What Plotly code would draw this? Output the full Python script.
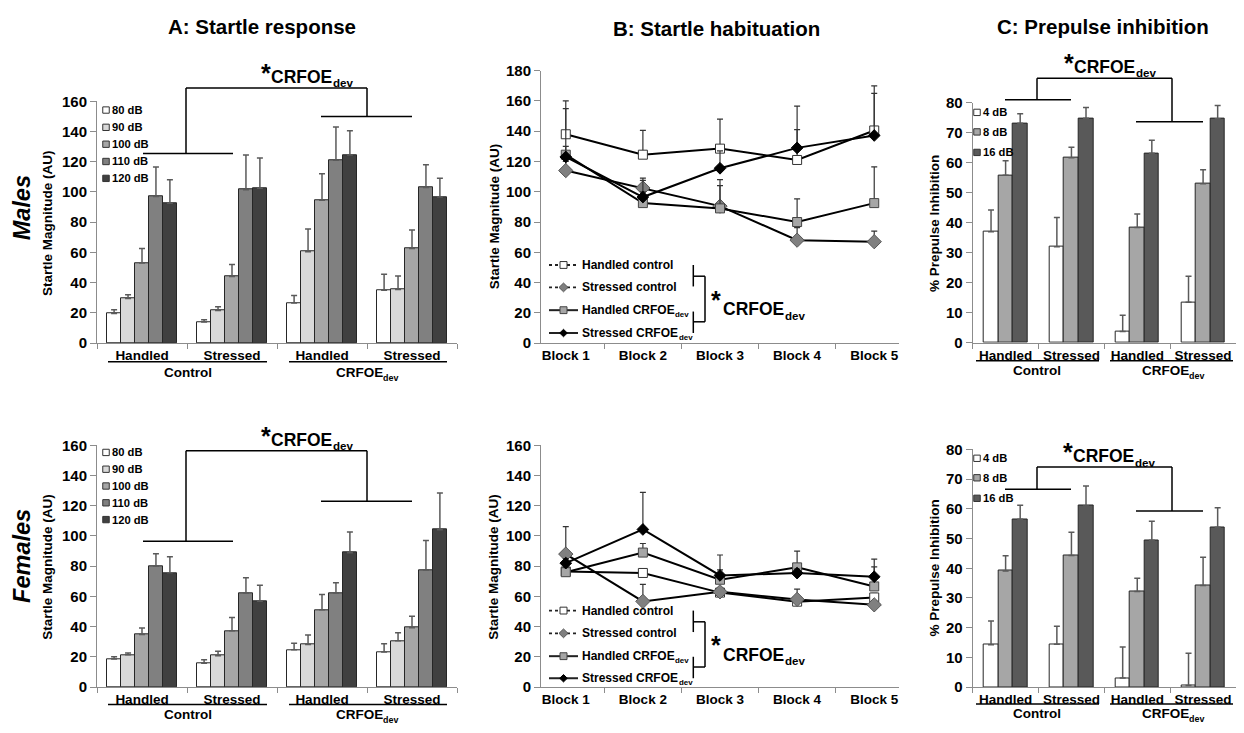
import plotly.graph_objects as go

W, H = 1244, 733          # browser window
OFF = 8                   # default page margin around the figure
FW, FH = W - 2 * OFF, H - 2 * OFF
FONT = "Liberation Sans"

# ---------------- data ----------------
group_ids = ["Control-Handled", "Control-Stressed", "CRFOE-Handled", "CRFOE-Stressed"]
group_ticks = ["Handled", "Stressed", "Handled", "Stressed"]
startle_levels = ["80 dB", "90 dB", "100 dB", "110 dB", "120 dB"]
ppi_levels = ["4 dB", "8 dB", "16 dB"]
blocks = ["Block 1", "Block 2", "Block 3", "Block 4", "Block 5"]
hab_names = [("Handled control", ""), ("Stressed control", ""),
             ("Handled CRFOE", "dev"), ("Stressed CRFOE", "dev")]

# A: startle response, males (mean, top of error bar) per dB level across the 4 groups
m_startle_80 = [19.5, 14.0, 26.5, 35.0]
m_startle_90 = [29.5, 21.5, 60.5, 35.5]
m_startle_100 = [53.0, 44.0, 94.5, 62.6]
m_startle_110 = [97.0, 101.5, 121.0, 103.0]
m_startle_120 = [92.5, 102.5, 124.5, 96.6]
m_startle_80_top = [22.0, 15.5, 31.5, 45.6]
m_startle_90_top = [32.0, 24.0, 75.5, 44.3]
m_startle_100_top = [62.5, 52.0, 112.0, 74.8]
m_startle_110_top = [116.5, 124.5, 143.0, 118.0]
m_startle_120_top = [108.0, 122.5, 140.5, 109.0]

# A: startle response, females
f_startle_80 = [18.5, 15.7, 24.6, 23.2]
f_startle_90 = [21.3, 20.7, 28.1, 30.6]
f_startle_100 = [34.8, 37.2, 51.1, 39.3]
f_startle_110 = [80.0, 62.3, 62.3, 77.4]
f_startle_120 = [75.6, 56.8, 88.9, 104.1]
f_startle_80_top = [20.0, 18.0, 28.9, 28.6]
f_startle_90_top = [22.6, 23.7, 34.5, 36.0]
f_startle_100_top = [39.0, 46.0, 61.3, 46.9]
f_startle_110_top = [88.2, 72.3, 69.0, 97.0]
f_startle_120_top = [86.3, 67.4, 102.6, 128.5]

# B: startle habituation, males
m_hab_hc = [138.0, 124.5, 128.5, 121.0, 140.5]
m_hab_sc = [114.0, 102.5, 90.5, 68.0, 67.0]
m_hab_hr = [124.5, 92.5, 89.0, 80.0, 92.5]
m_hab_sr = [123.0, 96.5, 115.5, 129.0, 137.2]
m_hab_hc_top = [160.0, 140.5, 148.0, 141.0, 165.0]
m_hab_sc_top = [120.0, 109.0, 108.0, 76.3, 74.0]
m_hab_hr_top = [155.0, 107.5, 104.0, 95.3, 116.5]
m_hab_sr_top = [130.0, 100.0, 127.0, 156.6, 170.0]

# B: startle habituation, females
f_hab_hc = [76.5, 75.5, 62.5, 56.5, 59.3]
f_hab_sc = [88.0, 56.7, 63.0, 58.0, 54.4]
f_hab_hr = [76.0, 89.0, 71.0, 79.2, 66.6]
f_hab_sr = [82.0, 104.3, 73.9, 75.4, 73.0]
f_hab_hc_top = [79.0, 78.0, 65.0, 59.0, 62.0]
f_hab_sc_top = [106.2, 67.9, 65.0, 64.8, 57.0]
f_hab_hr_top = [79.0, 95.0, 77.5, 90.0, 79.5]
f_hab_sr_top = [85.0, 128.8, 87.4, 78.0, 84.6]

# C: prepulse inhibition, males
m_ppi_4 = [37.0, 32.0, 3.8, 13.5]
m_ppi_8 = [55.8, 61.6, 38.4, 53.0]
m_ppi_16 = [73.1, 74.8, 63.1, 74.6]
m_ppi_4_top = [44.2, 41.7, 9.2, 22.2]
m_ppi_8_top = [60.6, 65.1, 42.9, 57.6]
m_ppi_16_top = [76.3, 78.4, 67.5, 79.0]

# C: prepulse inhibition, females
f_ppi_4 = [14.2, 14.4, 3.0, 0.5]
f_ppi_8 = [39.1, 44.3, 32.2, 34.2]
f_ppi_16 = [56.5, 61.0, 49.4, 53.8]
f_ppi_4_top = [22.2, 20.5, 13.5, 11.4]
f_ppi_8_top = [44.2, 52.1, 36.6, 43.7]
f_ppi_16_top = [61.2, 67.7, 55.8, 60.4]

# ---------------- styling ----------------
startle_colors = ["#ffffff", "#d9d9d9", "#a6a6a6", "#808080", "#404040"]
ppi_colors = ["#ffffff", "#a6a6a6", "#595959"]
hab_markers = [
    dict(symbol="square", size=9, color="#ffffff", line=dict(color="#333333", width=1)),
    dict(symbol="diamond", size=11, color="#808080", line=dict(color="#555555", width=1)),
    dict(symbol="square", size=9, color="#a6a6a6", line=dict(color="#444444", width=1)),
    dict(symbol="diamond", size=9, color="#000000", line=dict(color="#000000", width=1)),
]

# Arial/Liberation Sans bold advance widths (em) for the label glyphs used below
GW = {" ": .278, "C": .722, "R": .722, "F": .611, "O": .778, "E": .667, "H": .722,
      "S": .667, "a": .556, "n": .611, "d": .611, "l": .278, "e": .556, "t": .333,
      "r": .389, "s": .556, "c": .556, "o": .611, "v": .556}


def tw(s, size):
    return sum(GW.get(ch, .6) for ch in s) * size


def X(px):
    return (px - OFF) / FW


def Y(py):
    return 1 - (py - OFF) / FH


fig = go.Figure()

# panel geometry in window pixels: (left, right, bottom, top, yrange, dtick)
panels = {
    1: (97, 457, 342, 94.3, [0, 160], 20),      # A males
    2: (541, 899, 342, 63, [0, 180], 20),       # B males
    3: (972.7, 1236, 341.7, 95.7, [0, 80], 10), # C males
    4: (97, 457, 694.3, 446.7, [0, 160], 20),   # A females
    5: (541, 899, 694.3, 446.7, [0, 160], 20),  # B females
    6: (972.7, 1236, 694.3, 451, [0, 80], 10),  # C females
}

axis_color = "#8c8c8c"
layout_axes = {}
for n, (l, r, b, t, yr, dt) in panels.items():
    xs = "xaxis" if n == 1 else f"xaxis{n}"
    ys = "yaxis" if n == 1 else f"yaxis{n}"
    is_bar = n in (1, 3, 4, 6)
    xa = dict(
        domain=[X(l), X(r)], anchor="y" if n == 1 else f"y{n}",
        type="category", showline=True, linecolor=axis_color, linewidth=1,
        ticks="outside", ticklen=5, tickcolor=axis_color, tickson="boundaries",
        showgrid=False, zeroline=False, fixedrange=True, tickangle=0,
        tickfont=dict(family=FONT, size=13.5, color="black", weight="bold"),
    )
    if is_bar:
        xa.update(categoryorder="array", categoryarray=group_ids,
                  tickmode="array", tickvals=group_ids, ticktext=group_ticks)
    else:
        xa.update(categoryorder="array", categoryarray=blocks)
    ya = dict(
        domain=[Y(b), Y(t)], anchor="x" if n == 1 else f"x{n}",
        range=yr, dtick=dt, tick0=0, showline=True, linecolor=axis_color, linewidth=1,
        ticks="outside", ticklen=6, tickcolor=axis_color, showgrid=False,
        zeroline=False, fixedrange=True,
        tickfont=dict(family=FONT, size=15, color="black", weight="bold"),
    )
    layout_axes[xs] = xa
    layout_axes[ys] = ya


def axref(n):
    return ("x" if n == 1 else f"x{n}"), ("y" if n == 1 else f"y{n}")


# ---------------- bars ----------------
def add_bars(n, series, tops, colors, width_frac):
    xr, yr_ = axref(n)
    k = len(series)
    w = width_frac / k
    for i, (vals, top) in enumerate(zip(series, tops)):
        fig.add_trace(go.Bar(
            x=group_ids, y=vals, width=w, offset=-width_frac / 2 + i * w,
            marker=dict(color=colors[i], line=dict(color="#262626", width=1)),
            error_y=dict(type="data", symmetric=False,
                         array=[tp - v for tp, v in zip(top, vals)],
                         arrayminus=[0] * len(vals),
                         color="#5a5a5a", thickness=1.5, width=3),
            xaxis=xr, yaxis=yr_, showlegend=False, hoverinfo="skip",
        ))


add_bars(1, [m_startle_80, m_startle_90, m_startle_100, m_startle_110, m_startle_120],
         [m_startle_80_top, m_startle_90_top, m_startle_100_top, m_startle_110_top, m_startle_120_top],
         startle_colors, 0.775)
add_bars(4, [f_startle_80, f_startle_90, f_startle_100, f_startle_110, f_startle_120],
         [f_startle_80_top, f_startle_90_top, f_startle_100_top, f_startle_110_top, f_startle_120_top],
         startle_colors, 0.775)
add_bars(3, [m_ppi_4, m_ppi_8, m_ppi_16], [m_ppi_4_top, m_ppi_8_top, m_ppi_16_top], ppi_colors, 0.664)
add_bars(6, [f_ppi_4, f_ppi_8, f_ppi_16], [f_ppi_4_top, f_ppi_8_top, f_ppi_16_top], ppi_colors, 0.664)


# ---------------- lines ----------------
def add_lines(n, series, tops):
    xr, yr_ = axref(n)
    for i, (vals, top) in enumerate(zip(series, tops)):
        fig.add_trace(go.Scatter(
            x=blocks, y=vals, mode="lines+markers",
            line=dict(color="black", width=2), marker=hab_markers[i],
            error_y=dict(type="data", symmetric=False,
                         array=[tp - v for tp, v in zip(top, vals)],
                         arrayminus=[0] * len(vals),
                         color="#333333", thickness=1.2, width=3),
            xaxis=xr, yaxis=yr_, showlegend=False, hoverinfo="skip", cliponaxis=False,
        ))


add_lines(2, [m_hab_hc, m_hab_sc, m_hab_hr, m_hab_sr],
          [m_hab_hc_top, m_hab_sc_top, m_hab_hr_top, m_hab_sr_top])
add_lines(5, [f_hab_hc, f_hab_sc, f_hab_hr, f_hab_sr],
          [f_hab_hc_top, f_hab_sc_top, f_hab_hr_top, f_hab_sr_top])

# ---------------- decorations ----------------
shapes = []
annotations = []


def seg(x0, y0, x1, y1, width=1.5, color="black", dash=None):
    line = dict(color=color, width=width)
    if dash:
        line["dash"] = dash
    shapes.append(dict(type="line", xref="paper", yref="paper",
                       x0=X(x0), y0=Y(y0), x1=X(x1), y1=Y(y1), line=line, layer="above"))


def box(cx, cy, s, fill, lc="#333333"):
    shapes.append(dict(type="rect", xref="paper", yref="paper",
                       x0=X(cx - s / 2), x1=X(cx + s / 2), y0=Y(cy + s / 2), y1=Y(cy - s / 2),
                       fillcolor=fill, line=dict(color=lc, width=1), layer="above"))


def diamond(cx, cy, s, fill, lc):
    p = (f"M {X(cx)},{Y(cy - s)} L {X(cx + s)},{Y(cy)} L {X(cx)},{Y(cy + s)} "
         f"L {X(cx - s)},{Y(cy)} Z")
    shapes.append(dict(type="path", xref="paper", yref="paper", path=p,
                       fillcolor=fill, line=dict(color=lc, width=1), layer="above"))


def text(t, x, y, size, xanchor="center", yanchor="middle", angle=0, italic=False):
    font = dict(family=FONT, size=size, color="black", weight="bold")
    if italic:
        font["style"] = "italic"
    annotations.append(dict(text=t, x=X(x), y=Y(y), xref="paper", yref="paper",
                            xanchor=xanchor, yanchor=yanchor, textangle=angle,
                            showarrow=False, borderpad=0, font=font))


def sub_text(main, sub, x, y, size, align="left"):
    """Main label followed by a smaller subscript, drawn as two texts."""
    wm = tw(main, size)
    ws = tw(sub, size * 0.66) if sub else 0
    left = x if align == "left" else x - (wm + ws) / 2
    text(main, left, y, size, xanchor="left")
    if sub:
        text(sub, left + wm + 0.5, y + 0.38 * size, size * 0.66, xanchor="left")


# titles
text("A: Startle response", 262, 18, 20.5)
text("B: Startle habituation", 716, 20, 20.5)
text("C: Prepulse inhibition", 1103, 18, 20.5)
text("Males", 22, 204, 23.5, angle=-90, italic=True)
text("Females", 22, 560, 23.5, angle=-90, italic=True)

# y-axis titles
for (x, y, t) in [(48, 219, "Startle Magnitude (AU)"), (48, 571, "Startle Magnitude (AU)"),
                  (494, 212, "Startle Magnitude (AU)"), (494, 571, "Startle Magnitude (AU)"),
                  (935, 220, "% Prepulse Inhibition"), (935, 573, "% Prepulse Inhibition")]:
    text(t, x, y, 13.5, angle=-90)

# group underlines and labels (bar panels)
for yline, ylab in [(361, 372.5), (712.3, 722.5)]:
    seg(108, yline, 267, yline)
    seg(289, yline, 447, yline)
    text("Control", 187.5, ylab, 13.5)
    sub_text("CRFOE", "dev", 366, ylab, 13.5, align="center")
for yline, ylab in [(360, 370.5), (711.7, 721.5)]:
    seg(976, yline, 1099, yline)
    seg(1110, yline, 1233, yline)
    text("Control", 1037, ylab, 13.5)
    sub_text("CRFOE", "dev", 1172, ylab, 13.5, align="center")


# significance brackets
def bracket(xl, xr, ytop, yl, xl0, xl1, yr_, xr0, xr1, tx, ty):
    seg(xl, ytop, xr, ytop)
    seg(xl, ytop, xl, yl)
    seg(xr, ytop, xr, yr_)
    seg(xl0, yl, xl1, yl)
    seg(xr0, yr_, xr1, yr_)
    text("*", tx - 4, ty - 4, 25)
    sub_text("CRFOE", "dev", tx, ty, 17.5)


bracket(186, 367, 80.7, 147.7, 143, 233, 110, 321, 412, 270, 69)
bracket(186, 367, 452.3, 545, 143, 233, 504, 321, 412, 270, 441)
bracket(1037, 1172, 70.7, 92.7, 1005, 1071, 115.3, 1136, 1203, 1073, 59)
bracket(1037, 1172, 469, 491.7, 1005, 1071, 514, 1136, 1203, 1072, 458)

# bar legends
for rows in ([103.3, 121, 138.3, 156, 173.3], [454, 471.2, 488.4, 505.6, 522.8]):
    for i, yy in enumerate(rows):
        box(106, yy, 6.5, startle_colors[i])
        text(startle_levels[i], 110.5, yy, 11.2, xanchor="left")
for rows in ([105.7, 125.7, 146.7], [460, 480, 501]):
    for i, yy in enumerate(rows):
        box(977, yy, 6.5, ppi_colors[i])
        text(ppi_levels[i], 981.5, yy, 11.2, xanchor="left")

# habituation legends + bracket
for rows, ctr in (([262, 285, 308.3, 331.7], 307.5), ([616, 639.3, 662.7, 685.3], 661)):
    for i, yy in enumerate(rows):
        seg(549, yy, 578, yy, width=2 if i >= 2 else 1.8, color="#222222",
            dash="dot" if i < 2 else None)
        m = hab_markers[i]
        if m["symbol"] == "square":
            box(563.5, yy, 7, m["color"], m["line"]["color"])
        else:
            diamond(563.5, yy, 4.5 if i == 1 else 3.8, m["color"], m["line"]["color"])
        sub_text(hab_names[i][0], hab_names[i][1], 581, yy, 12)
    r0, r1, r2, r3 = rows
    seg(693.3, r0, 693.3, r0 + 22)
    seg(693.3, r3 - 22, 693.3, r3)
    ya, yb = r0 + 11.5, r3 - 11.5
    seg(693.3, ya, 705, ya)
    seg(693.3, yb, 705, yb)
    seg(705, ya, 705, yb)
    text("*", 716, ctr - 10, 25)
    sub_text("CRFOE", "dev", 722, ctr, 17.5)

fig.update_layout(
    width=FW, height=FH, margin=dict(l=0, r=0, t=0, b=0),
    paper_bgcolor="white", plot_bgcolor="white",
    showlegend=False, bargap=0, barmode="overlay",
    shapes=shapes, annotations=annotations,
    font=dict(family=FONT, color="black"),
    **layout_axes,
)

fig.write_html("out.html", config={"displayModeBar": False})
